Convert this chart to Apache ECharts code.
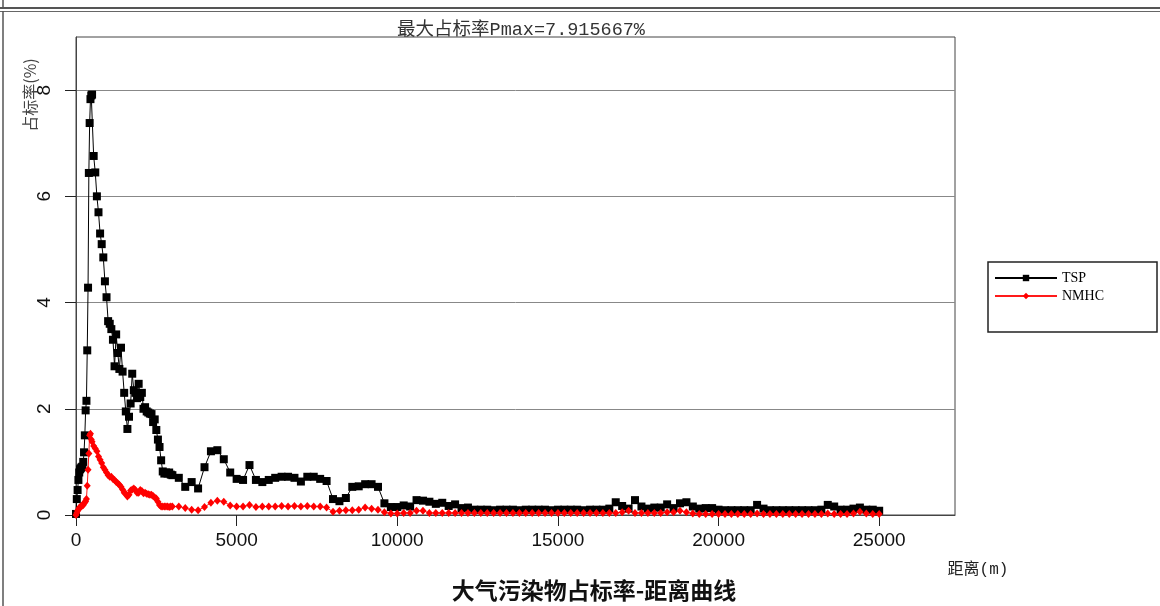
<!DOCTYPE html>
<html>
<head>
<meta charset="utf-8">
<script src="https://cdn.jsdelivr.net/npm/echarts@6/dist/echarts.min.js"></script>
<style>
  html, body { margin: 0; padding: 0; background: #fff; }
  #chart { width: 1160px; height: 606px; }
</style>
</head>
<body>
<div id="chart"></div>
<script>
// Receptor distances (m)
const distNear = [0, 25, 50, 75, 100, 125, 150, 175, 200, 225, 250, 275, 300, 325, 350, 375, 400, 425, 450, 475, 500];
const distMid = [550, 600, 650, 700, 750, 800, 850, 900, 950, 1000,
  1050, 1100, 1150, 1200, 1250, 1300, 1350, 1400, 1450, 1500,
  1550, 1600, 1650, 1700, 1750, 1800, 1850, 1900, 1950, 2000,
  2050, 2100, 2150, 2200, 2250, 2300, 2350, 2400, 2450, 2500,
  2550, 2600, 2650, 2700, 2750, 2800, 2850, 2900, 2950, 3000];
const distFar = [3200, 3400, 3600, 3800, 4000, 4200, 4400, 4600, 4800, 5000,
  5200, 5400, 5600, 5800, 6000, 6200, 6400, 6600, 6800, 7000,
  7200, 7400, 7600, 7800, 8000, 8200, 8400, 8600, 8800, 9000,
  9200, 9400, 9600, 9800, 10000, 10200, 10400, 10600, 10800, 11000,
  11200, 11400, 11600, 11800, 12000, 12200, 12400, 12600, 12800, 13000,
  13200, 13400, 13600, 13800, 14000, 14200, 14400, 14600, 14800, 15000,
  15200, 15400, 15600, 15800, 16000, 16200, 16400, 16600, 16800, 17000,
  17200, 17400, 17600, 17800, 18000, 18200, 18400, 18600, 18800, 19000,
  19200, 19400, 19600, 19800, 20000, 20200, 20400, 20600, 20800, 21000,
  21200, 21400, 21600, 21800, 22000, 22200, 22400, 22600, 22800, 23000,
  23200, 23400, 23600, 23800, 24000, 24200, 24400, 24600, 24800, 25000];

// TSP ratio (%)
const tspNear = [0.02, 0.3, 0.47, 0.66, 0.8, 0.86, 0.88, 0.9, 0.91, 1.0, 1.18, 1.5, 1.97, 2.15, 3.1, 4.28, 6.44, 7.38, 7.83, 7.9, 7.915667];
const tspMid = [6.76, 6.45, 6.0, 5.7, 5.3, 5.1, 4.85, 4.4, 4.1, 3.65,
  3.6, 3.5, 3.3, 2.8, 3.4, 3.05, 2.75, 3.15, 2.7, 2.3,
  1.95, 1.62, 1.85, 2.1, 2.66, 2.35, 2.3, 2.2, 2.47, 2.22,
  2.3, 2.0, 2.03, 1.95, 1.93, 1.91, 1.9, 1.75, 1.8, 1.6,
  1.42, 1.28, 1.03, 0.82, 0.78, 0.8, 0.78, 0.8, 0.76, 0.75];
const tspFar = [0.7, 0.53, 0.62, 0.5, 0.9, 1.2, 1.22, 1.05, 0.8, 0.68,
  0.66, 0.94, 0.66, 0.62, 0.66, 0.7, 0.72, 0.72, 0.7, 0.63,
  0.72, 0.72, 0.68, 0.64, 0.3, 0.26, 0.32, 0.53, 0.54, 0.58,
  0.58, 0.53, 0.22, 0.15, 0.15, 0.18, 0.16, 0.28, 0.27, 0.25,
  0.21, 0.23, 0.17, 0.2, 0.13, 0.14, 0.1, 0.1, 0.1, 0.09,
  0.1, 0.1, 0.1, 0.09, 0.1, 0.1, 0.1, 0.1, 0.09, 0.1,
  0.1, 0.1, 0.1, 0.09, 0.1, 0.1, 0.1, 0.12, 0.24, 0.17,
  0.12, 0.28, 0.16, 0.12, 0.14, 0.14, 0.2, 0.13, 0.22, 0.24,
  0.16, 0.12, 0.13, 0.13, 0.1, 0.09, 0.09, 0.09, 0.09, 0.09,
  0.19, 0.12, 0.09, 0.09, 0.09, 0.09, 0.09, 0.09, 0.09, 0.09,
  0.1, 0.19, 0.16, 0.1, 0.1, 0.12, 0.14, 0.1, 0.1, 0.08];

// NMHC ratio (%)
const nmhcNear = [0, 0.04, 0.08, 0.1, 0.13, 0.15, 0.16, 0.17, 0.18, 0.19, 0.22, 0.24, 0.26, 0.3, 0.55, 0.85, 1.16, 1.5, 1.53, 1.42, 1.38];
const nmhcMid = [1.3, 1.25, 1.2, 1.1, 1.04, 0.98, 0.9, 0.85, 0.8, 0.75,
  0.72, 0.72, 0.68, 0.66, 0.62, 0.6, 0.57, 0.53, 0.48, 0.42,
  0.4, 0.35, 0.38, 0.46, 0.48, 0.5, 0.47, 0.42, 0.42, 0.47,
  0.45, 0.41, 0.42, 0.4, 0.39, 0.38, 0.38, 0.36, 0.33, 0.31,
  0.25, 0.19, 0.16, 0.16, 0.16, 0.16, 0.16, 0.15, 0.16, 0.16];
const nmhcFar = [0.16, 0.13, 0.1, 0.09, 0.15, 0.23, 0.27, 0.25, 0.18, 0.16,
  0.16, 0.19, 0.15, 0.16, 0.16, 0.16, 0.17, 0.16, 0.17, 0.16,
  0.17, 0.16, 0.16, 0.14, 0.06, 0.08, 0.09, 0.09, 0.1, 0.14,
  0.12, 0.1, 0.05, 0.03, 0.03, 0.04, 0.04, 0.08, 0.08, 0.04,
  0.04, 0.04, 0.04, 0.04, 0.04, 0.04, 0.04, 0.04, 0.04, 0.04,
  0.04, 0.04, 0.04, 0.04, 0.04, 0.04, 0.04, 0.04, 0.04, 0.04,
  0.04, 0.04, 0.04, 0.04, 0.04, 0.04, 0.04, 0.04, 0.04, 0.05,
  0.08, 0.04, 0.04, 0.04, 0.04, 0.04, 0.05, 0.05, 0.08, 0.05,
  0.03, 0.02, 0.02, 0.02, 0.02, 0.02, 0.02, 0.02, 0.02, 0.02,
  0.03, 0.02, 0.02, 0.02, 0.02, 0.02, 0.02, 0.02, 0.02, 0.02,
  0.02, 0.03, 0.02, 0.02, 0.02, 0.03, 0.06, 0.03, 0.02, 0.02];

const xTicks = [0, 5000, 10000, 15000, 20000, 25000];
const yTicks = [0, 2, 4, 6, 8];
const seriesNames = ['TSP', 'NMHC'];

const distances = distNear.concat(distMid, distFar);
const tsp = tspNear.concat(tspMid, tspFar);
const nmhc = nmhcNear.concat(nmhcMid, nmhcFar);
const pmax = Math.max.apply(null, tsp);

const G = { left: 76, top: 37, right: 955, bottom: 515 };
const W = 1160, H = 606;

const chart = echarts.init(document.getElementById('chart'), null, { renderer: 'canvas' });
chart.setOption({
  animation: false,
  backgroundColor: '#fff',
  grid: { left: G.left, top: G.top, right: W - G.right, bottom: H - G.bottom, show: true, borderColor: '#444', borderWidth: 1, backgroundColor: 'transparent' },
  title: [
    { text: '最大占标率Pmax=' + pmax.toFixed(6) + '%', left: 516, top: 16, textAlign: 'center',
      textStyle: { fontFamily: "'Liberation Mono', 'Noto Sans CJK SC'", fontSize: 18.5, fontWeight: 'normal', color: '#333' } },
    { text: '大气污染物占标率-距离曲线', left: 589, top: 574, textAlign: 'center',
      textStyle: { fontFamily: "'Noto Sans CJK SC'", fontSize: 23, fontWeight: 'bold', color: '#111' } }
  ],
  legend: {
    orient: 'vertical', left: 988, top: 262,
    data: seriesNames,
    itemWidth: 62, itemHeight: 8, itemGap: 4,
    padding: [9, 53, 29, 6],
    borderColor: '#222', borderWidth: 1.5,
    textStyle: { fontFamily: "'Liberation Serif'", fontSize: 14, color: '#000' }
  },
  xAxis: {
    type: 'value', min: 0, max: 27360,
    axisLine: { lineStyle: { color: '#444', width: 1 } },
    axisTick: { customValues: xTicks, length: 11, lineStyle: { color: '#222' } },
    axisLabel: { customValues: xTicks, formatter: v => String(v), margin: 16, fontFamily: "'Liberation Sans'", fontSize: 19, color: '#111' },
    splitLine: { show: false }
  },
  yAxis: {
    type: 'value', min: 0, max: 9,
    axisLine: { show: true, lineStyle: { color: '#444', width: 1 } },
    axisTick: { show: true, customValues: yTicks, length: 11, lineStyle: { color: '#222' } },
    axisLabel: { customValues: yTicks, rotate: 90, margin: 22, fontFamily: "'Liberation Sans'", fontSize: 19, color: '#111' },
    splitLine: { show: true, lineStyle: { color: '#888', width: 1 } }
  },
  series: [
    { name: seriesNames[0], type: 'line', data: distances.map((d, i) => [d, tsp[i]]),
      symbol: 'rect', symbolSize: 8, showAllSymbol: true,
      lineStyle: { color: '#000', width: 1 }, itemStyle: { color: '#000' } },
    { name: seriesNames[1], type: 'line', data: distances.map((d, i) => [d, nmhc[i]]),
      symbol: 'diamond', symbolSize: [7, 8], showAllSymbol: true,
      lineStyle: { color: '#ff1a1a', width: 1 }, itemStyle: { color: '#ff0000' } }
  ],
  graphic: [
    // window frame
    { type: 'line', shape: { x1: 0, y1: 8, x2: W, y2: 8 }, style: { stroke: '#555', lineWidth: 2 } },
    { type: 'line', shape: { x1: 3, y1: 0, x2: 3, y2: 8 }, style: { stroke: '#555', lineWidth: 1.5 } },
    { type: 'line', shape: { x1: 0, y1: 11.5, x2: W, y2: 11.5 }, style: { stroke: '#666', lineWidth: 1 } },
    { type: 'line', shape: { x1: 3, y1: 11, x2: 3, y2: H }, style: { stroke: '#555', lineWidth: 1.5 } },
    // axis names
    { type: 'text', x: 30, y: 95, rotation: Math.PI / 2,
      style: { text: '占标率(%)', fontFamily: "'Noto Sans CJK SC'", fontSize: 16, fill: '#444', align: 'center', verticalAlign: 'middle' } },
    { type: 'text', x: 978, y: 570,
      style: { text: '距离(m)', fontFamily: "'Liberation Mono', 'Noto Sans CJK SC'", fontSize: 16, fill: '#222', align: 'center', verticalAlign: 'middle' } }
  ]
});
</script>
</body>
</html>
